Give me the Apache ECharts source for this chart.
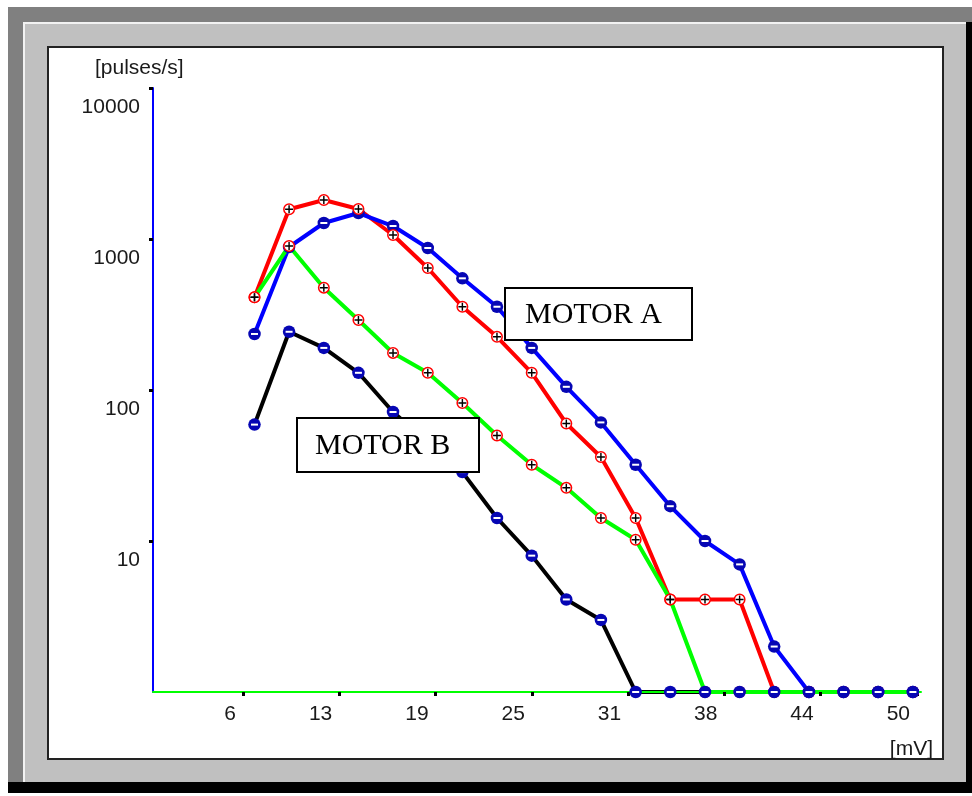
<!DOCTYPE html>
<html>
<head>
<meta charset="utf-8">
<script src="https://cdn.jsdelivr.net/npm/echarts@6/dist/echarts.min.js"></script>
<style>
  html, body { margin: 0; padding: 0; background: #fff; }
  #chart { width: 972px; height: 796px; }
</style>
</head>
<body>
<div id="chart"></div>
<script>
// ---- data ----
const mV = [7.04, 9.30, 11.57, 13.83, 16.09, 18.36, 20.62, 22.88, 25.15, 27.41,
            29.67, 31.94, 34.20, 36.47, 38.73, 40.99, 43.26, 45.52, 47.78, 50.05];
// MOTOR A
const motorA_blue = [235, 885, 1276, 1486, 1219, 872, 549, 356, 190, 105,
                     61, 32, 17, 10, 7.0, 2.0, 1, 1, 1, 1];
const motorA_red  = [411, 1573, 1812, 1580, 1063, 643, 356, 225, 130, 60,
                     36, 14.2, 4.1, 4.1, 4.1, 1, 1, 1, 1, 1];
// MOTOR B
const motorB_green = [411, 899, 476, 291, 176, 130, 82, 50, 32, 22.5,
                      14.2, 10.2, 4.1, 1, 1, 1, 1, 1, 1, 1];
const motorB_black = [59, 243, 190, 130, 71.5, 45, 28.6, 14.2, 8.0, 4.1,
                      3.0, 1, 1, 1, 1, 1, 1, 1, 1, 1];

const xTickValues = [6.29, 12.58, 18.87, 25.16, 31.45, 37.74, 44.03, 50.32];
const xTickLabels = ['6', '13', '19', '25', '31', '38', '44', '50'];
const yTickValues = [10, 100, 1000, 10000];
const yTickLabels = ['10', '100', '1000', '10000'];

// ---- helpers ----
const pairs = (ys) => mV.map((x, i) => [x, ys[i]]);
const FONT = 'Liberation Sans, Arial, sans-serif';
const PLUS = 'path://M4.1,0h1.8v4.1h4.1v1.8h-4.1v4.1h-1.8v-4.1h-4.1v-1.8h4.1z';

function lineSeries(name, ys, color, z) {
  return {
    name, type: 'line', data: pairs(ys), z,
    showSymbol: false, symbol: 'none', silent: true,
    lineStyle: { color, width: 4 },
    emphasis: { disabled: true }
  };
}
function minusMarkers(name, ys, z) {
  return [
    { name, type: 'scatter', data: pairs(ys), z, clip: false, silent: true,
      symbol: 'circle', symbolSize: 12.5,
      itemStyle: { color: '#0606b4', opacity: 1 }, emphasis: { disabled: true } },
    { name, type: 'scatter', data: pairs(ys), z: z + 1, clip: false, silent: true,
      symbol: 'rect', symbolSize: [7, 2],
      itemStyle: { color: '#ffffff', opacity: 1 }, emphasis: { disabled: true } }
  ];
}
function plusMarkers(name, ys, z) {
  return [
    { name, type: 'scatter', data: pairs(ys), z, clip: false, silent: true,
      symbol: 'circle', symbolSize: 10.5,
      itemStyle: { color: '#ffffff', borderColor: '#ff0000', borderWidth: 1.5, opacity: 1 },
      emphasis: { disabled: true } },
    { name, type: 'scatter', data: pairs(ys), z: z + 1, clip: false, silent: true,
      symbol: PLUS, symbolSize: 8,
      itemStyle: { color: '#000000', opacity: 1 }, emphasis: { disabled: true } }
  ];
}

const chart = echarts.init(document.getElementById('chart'), null, { renderer: 'canvas' });

const option = {
  animation: false,
  backgroundColor: '#ffffff',
  grid: { left: 153, top: 88, width: 768, height: 604, containLabel: false },
  xAxis: {
    type: 'value', min: 0.41, max: 50.58, z: 5,
    axisLine: { show: true, onZero: false, lineStyle: { color: '#00ff00', width: 2 } },
    axisTick: { show: true, customValues: xTickValues, length: 4,
                lineStyle: { color: '#000', width: 3 } },
    axisLabel: {
      show: true, customValues: xTickValues,
      formatter: (v) => {
        const k = xTickValues.findIndex(t => Math.abs(t - v) < 1e-6);
        return k >= 0 ? xTickLabels[k] : '';
      },
      align: 'right', padding: [0, 7, 0, 0], margin: 11, lineHeight: 22,
      fontFamily: FONT, fontSize: 21, color: '#1a1a1a'
    },
    splitLine: { show: false }
  },
  yAxis: {
    type: 'log', logBase: 10, min: 1, max: 10000, z: 5,
    axisLine: { show: true, onZero: false, lineStyle: { color: '#0000ff', width: 2 } },
    axisTick: { show: true, customValues: yTickValues, length: 4,
                lineStyle: { color: '#000', width: 3 } },
    axisLabel: {
      show: true, customValues: yTickValues,
      formatter: (v) => {
        const k = yTickValues.findIndex(t => Math.abs(t - v) < 1e-6 * t);
        return k >= 0 ? yTickLabels[k] : '';
      },
      verticalAlign: 'top', padding: [8, 0, 0, 0], lineHeight: 22, margin: 13,
      fontFamily: FONT, fontSize: 21, color: '#1a1a1a'
    },
    splitLine: { show: false }
  },
  series: [
    lineSeries('Motor A (+)', motorA_red, '#ff0000', 2),
    lineSeries('Motor A (-)', motorA_blue, '#0000ff', 3),
    lineSeries('Motor B (-)', motorB_black, '#000000', 3),
    lineSeries('Motor B (+)', motorB_green, '#00ff00', 4),
    ...minusMarkers('Motor A (-)', motorA_blue, 6),
    ...plusMarkers('Motor A (+)', motorA_red, 8),
    ...plusMarkers('Motor B (+)', motorB_green, 8),
    ...minusMarkers('Motor B (-)', motorB_black, 10)
  ],
  graphic: [
    // window frame
    { type: 'rect', z: -20, silent: true, shape: { x: 8, y: 7, width: 964, height: 786 },
      style: { fill: '#808080' } },
    { type: 'rect', z: -19, silent: true, shape: { x: 8, y: 782, width: 964, height: 11 },
      style: { fill: '#000000' } },
    { type: 'rect', z: -19, silent: true, shape: { x: 966, y: 22, width: 6, height: 771 },
      style: { fill: '#000000' } },
    { type: 'rect', z: -18, silent: true, shape: { x: 23, y: 22, width: 943, height: 760 },
      style: { fill: '#c0c0c0' } },
    { type: 'rect', z: -17, silent: true, shape: { x: 23, y: 22, width: 943, height: 2 },
      style: { fill: '#f2f2f2' } },
    { type: 'rect', z: -17, silent: true, shape: { x: 23, y: 22, width: 2, height: 760 },
      style: { fill: '#f2f2f2' } },
    { type: 'rect', z: -16, silent: true, shape: { x: 48, y: 47, width: 895, height: 712 },
      style: { fill: '#ffffff', stroke: '#222222', lineWidth: 2 } },
    // axis titles
    { type: 'text', z: 50, silent: true, x: 95, y: 68,
      style: { text: '[pulses/s]', font: '21px ' + FONT, fill: '#1a1a1a',
               textAlign: 'left', textVerticalAlign: 'middle' } },
    { type: 'text', z: 50, silent: true, x: 933, y: 749,
      style: { text: '[mV]', font: '21px ' + FONT, fill: '#1a1a1a',
               textAlign: 'right', textVerticalAlign: 'middle' } },
    // annotation boxes
    { type: 'rect', z: 100, silent: true, shape: { x: 505, y: 288, width: 187, height: 52 },
      style: { fill: '#ffffff', stroke: '#000000', lineWidth: 2 } },
    { type: 'text', z: 101, silent: true, x: 525, y: 315,
      style: { text: 'MOTOR A', font: '30px "Liberation Serif", "Times New Roman", serif',
               fill: '#000', textAlign: 'left', textVerticalAlign: 'middle' } },
    { type: 'rect', z: 100, silent: true, shape: { x: 297, y: 418, width: 182, height: 54 },
      style: { fill: '#ffffff', stroke: '#000000', lineWidth: 2 } },
    { type: 'text', z: 101, silent: true, x: 315, y: 446,
      style: { text: 'MOTOR B', font: '30px "Liberation Serif", "Times New Roman", serif',
               fill: '#000', textAlign: 'left', textVerticalAlign: 'middle' } }
  ]
};
chart.setOption(option);
</script>
</body>
</html>
